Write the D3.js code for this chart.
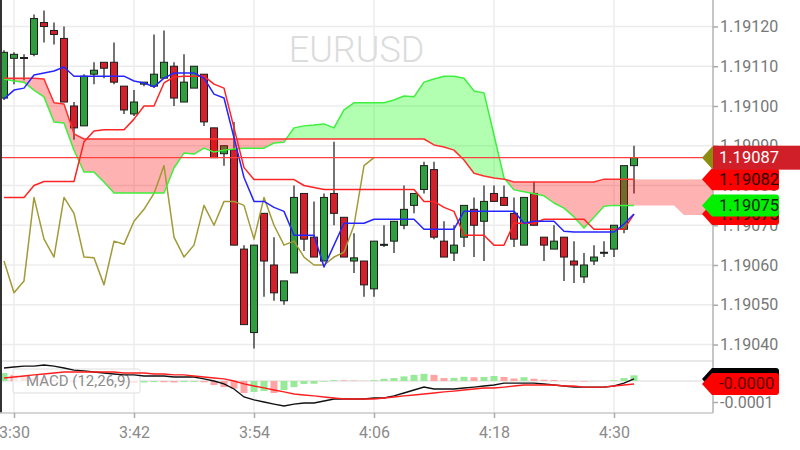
<!DOCTYPE html>
<html><head><meta charset="utf-8">
<script src="https://cdn.jsdelivr.net/npm/d3@7"></script>
<style>
html,body{margin:0;padding:0;background:#fff;}
svg{display:block;font-family:Roboto,"Noto Sans",sans-serif;}
</style></head><body>
<svg id="chart" width="800" height="450"></svg>
<script>
// ---------- data ----------
const symbol = "EURUSD";
const firstBar = "3:29";
const open = [1.19102,1.19112,1.19112,1.19113,1.19121,1.19119,1.19117,1.191,1.19095,1.19108,
1.19111,1.19111,1.19105,1.19098,1.191055,1.19105,1.19107,1.1911,1.19101,1.191045,
1.19108,1.190945,1.19088,1.19089,1.19064,1.19043,1.19073,1.1906,1.19051,1.19058,
1.19078,1.19067,1.19061,1.19078,1.19072,1.19061,1.19061,1.19054,1.19065,1.19066,
1.1907,1.19075,1.19079,1.19084,1.19066,1.19063,1.19067,1.19074,1.19071,1.19078,
1.19077,1.19073,1.19065,1.19078,1.19067,1.19064,1.19067,1.19061,1.19057,1.19061,
1.19063,1.19064,1.19069,1.19085];
const high = [1.19114,1.191135,1.19113,1.19123,1.19124,1.19121,1.1912,1.19101,1.19108,1.19111,
1.19111,1.19116,1.19105,1.19104,1.19106,1.19118,1.19119,1.19111,1.19113,1.1911,
1.19108,1.190945,1.1909,1.19096,1.19065,1.19065,1.19073,1.19067,1.19056,1.1908,
1.19078,1.19076,1.19078,1.19091,1.19072,1.19068,1.19061,1.19066,1.1907,1.19071,
1.1908,1.19078,1.19086,1.19086,1.19071,1.1907,1.19075,1.19077,1.1908,1.1908,
1.1908,1.19077,1.19077,1.19081,1.19067,1.1907,1.19067,1.19066,1.19063,1.19065,
1.19066,1.1907,1.19085,1.1909];
const low = [1.191015,1.191055,1.191065,1.191125,1.19116,1.191155,1.19101,1.190915,1.19095,1.191055,
1.19107,1.191055,1.19098,1.190975,1.19105,1.191045,1.19107,1.191,1.19101,1.191045,
1.19095,1.19087,1.19085,1.19065,1.19045,1.19039,1.19052,1.19051,1.1905,1.19058,
1.190635,1.19062,1.19061,1.1907,1.19062,1.19058,1.19052,1.19052,1.190645,1.19063,
1.19069,1.19073,1.19078,1.190665,1.19062,1.19061,1.190645,1.19062,1.19061,1.19076,
1.19075,1.190645,1.19065,1.1907,1.19061,1.19064,1.19056,1.190555,1.190555,1.1906,
1.19062,1.19062,1.19068,1.19078];
const close = [1.191135,1.19113,1.191122,1.19122,1.1912,1.19118,1.19101,1.190945,1.191075,1.19109,
1.191095,1.19106,1.19099,1.19101,1.19106,1.19108,1.19111,1.19102,1.19106,1.1911,
1.19096,1.19087,1.1909,1.19065,1.19045,1.19065,1.19061,1.19053,1.19056,1.19077,
1.190665,1.19062,1.19077,1.19073,1.19062,1.190618,1.19055,1.19066,1.190652,1.19071,
1.19074,1.19078,1.19085,1.19067,1.19062,1.19065,1.19075,1.1907,1.19076,1.19076,
1.19075,1.190665,1.19077,1.1907,1.19065,1.19066,1.19062,1.1906,1.1906,1.19062,
1.190632,1.1907,1.19085,1.19087];
const tenkan = [1.191018,1.19104,1.191045,1.191078,1.191083,1.191088,1.191098,1.191075,1.191075,1.191075,
1.191075,1.191075,1.191075,1.191063,1.191058,1.191048,1.19107,1.191083,1.191083,1.191083,
1.19107,1.19103,1.19102,1.19092,1.19082,1.19076,1.19076,1.190745,1.190735,1.190675,
1.190675,1.190675,1.190595,1.19065,1.190705,1.190705,1.190705,1.190715,1.190715,1.190715,
1.190715,1.190715,1.19069,1.19069,1.19069,1.19069,1.190735,1.190735,1.190735,1.190735,
1.190735,1.190735,1.190705,1.19071,1.19071,1.19071,1.190685,1.190683,1.190683,1.190683,
1.190683,1.190683,1.190703,1.190728];
const kijun = [1.19077,1.19077,1.19077,1.1908,1.19081,1.19081,1.19081,1.19081,1.19091,1.190937,
1.19094,1.19094,1.19094,1.190967,1.191,1.191,1.191058,1.191073,1.191075,1.191075,
1.191075,1.191055,1.191045,1.190945,1.190845,1.190815,1.190815,1.190815,1.190815,1.190815,
1.1908,1.190795,1.19079,1.19079,1.19079,1.19079,1.19079,1.19079,1.19079,1.19079,
1.19079,1.19079,1.19076,1.19076,1.190745,1.190735,1.190675,1.190675,1.190675,1.19065,
1.19065,1.190705,1.190705,1.190705,1.190715,1.190715,1.190715,1.190715,1.190715,1.19069,
1.19069,1.19069,1.19069,1.190728];
const senkouA = [1.191068,1.191063,1.19106,1.19104,1.191023,1.19096,1.190957,1.190889,1.190834,1.190834,
1.190809,1.190781,1.190781,1.190781,1.190781,1.190781,1.190781,1.190844,1.190882,1.190879,
1.190894,1.190884,1.190889,1.190892,1.190894,1.190894,1.190894,1.190907,1.190909,1.190945,
1.19095,1.190952,1.190955,1.190945,1.19099,1.191008,1.191008,1.191008,1.191008,1.191015,
1.191025,1.191023,1.19106,1.191068,1.191075,1.191075,1.19107,1.191038,1.191033,1.190927,
1.190819,1.190789,1.190784,1.190779,1.190774,1.190756,1.190743,1.190721,1.190693,1.19072,
1.190748,1.19075,1.19075,1.19075,1.19075,1.19075,1.19075,1.19075,1.190726,1.190726,
1.190726,1.190726];
const senkouB = [1.19107,1.19107,1.19107,1.19107,1.191068,1.191008,1.191005,1.19093,1.190917,1.190917,
1.190917,1.190917,1.190917,1.190917,1.190917,1.190917,1.190917,1.190917,1.190917,1.190917,
1.190917,1.190917,1.190917,1.190917,1.190917,1.190917,1.190917,1.190917,1.190917,1.190917,
1.190917,1.190917,1.190917,1.190917,1.190917,1.190917,1.190917,1.190917,1.190917,1.190917,
1.190917,1.190917,1.190917,1.190902,1.190897,1.190889,1.190864,1.190831,1.190824,1.190819,
1.190816,1.190809,1.190809,1.190809,1.190809,1.190809,1.190809,1.190809,1.190809,1.190809,
1.190816,1.190816,1.190816,1.190816,1.190816,1.190816,1.190816,1.190816,1.190816,1.190816,
1.190816,1.190816];
const chikou = [1.19061,1.19053,1.19056,1.19077,1.190665,1.19062,1.19077,1.19073,1.19062,1.190618,
1.19055,1.19066,1.190652,1.19071,1.19074,1.19078,1.19085,1.19067,1.19062,1.19065,
1.19075,1.1907,1.19076,1.19076,1.19075,1.190665,1.19077,1.1907,1.19065,1.19066,
1.19062,1.1906,1.1906,1.19062,1.190632,1.1907,1.19085,1.19087];
const macd = [0.000062,0.000067,0.000071,0.000071,0.000076,0.000071,0.000062,0.000052,0.000048,0.000043,
0.000038,0.000033,0.000029,0.000029,0.000024,0.000024,0.000024,0.000019,0.000019,0.000019,
0.00001,0,-0.000014,-0.000038,-0.000076,-0.00009,-0.0001,-0.00011,-0.000119,-0.00011,
-0.000105,-0.000105,-0.000095,-0.000086,-0.000086,-0.000086,-0.000086,-0.000081,-0.000081,-0.000071,
-0.000057,-0.000043,-0.000029,-0.000038,-0.000038,-0.000038,-0.000033,-0.000029,-0.000024,-0.000019,
-0.00001,-0.00001,-0.00001,-0.00001,-0.000014,-0.000019,-0.000024,-0.000029,-0.000029,-0.000029,
-0.000029,-0.000024,-0.00001,0.00001];
const signal = [0.000014,0.000019,0.000024,0.000029,0.000033,0.000038,0.000043,0.000043,0.000043,0.000043,
0.000043,0.000043,0.000038,0.000038,0.000038,0.000033,0.000033,0.000029,0.000029,0.000024,
0.000019,0.000014,0.00001,0,-0.000014,-0.000024,-0.000033,-0.000043,-0.000052,-0.000062,
-0.000067,-0.000071,-0.000076,-0.000081,-0.000086,-0.000086,-0.000086,-0.000086,-0.000081,-0.000076,
-0.000071,-0.000067,-0.000062,-0.000057,-0.000052,-0.000048,-0.000043,-0.000038,-0.000033,-0.000033,
-0.000029,-0.000024,-0.000019,-0.000019,-0.000019,-0.000019,-0.000024,-0.000024,-0.000029,-0.000029,
-0.000029,-0.000024,-0.000019,-0.000014];
const hist = [0.000038,0.000029,0.000024,0.000014,0.00001,0.000005,0.000002,-0.000005,-0.000004,-0.000003,
-0.000002,-0.000004,-0.000006,-0.00001,-0.000007,-0.000005,-0.000006,-0.000007,-0.000005,-0.000004,
-0.000006,-0.000019,-0.000029,-0.000036,-0.000057,-0.000052,-0.000048,-0.000057,-0.000043,-0.000029,
-0.000014,-0.000013,-0.000003,0.000004,0.000003,0.000002,0.000001,0.000004,0.00001,0.000014,
0.000022,0.000029,0.000034,0.000029,0.000014,0.000015,0.00002,0.000018,0.000019,0.000024,
0.000019,0.000012,0.000018,0.000011,0.000006,0.000005,0.000001,-0.000002,-0.000003,-0.000001,
0,0.000004,0.000014,0.000027];
const priceTicks = [1.1904,1.1905,1.1906,1.1907,1.1908,1.1909,1.1910,1.1911,1.1912];
const macdTicks = [-0.0001];
const timeTicks = ["3:30","3:42","3:54","4:06","4:18","4:30"];
const macdName = "MACD (12,26,9)";

// ---------- layout ----------
const plotR = 713, mainB = 359, macdT = 361, macdB = 413;
const svg = d3.select("#chart");
const parse = d3.timeParse("%H:%M");
const t0 = parse(firstBar);
const barTime = i => d3.timeMinute.offset(t0, i);
const times = open.map((d, i) => barTime(i));
const x = d3.scaleTime()
  .domain([d3.timeSecond.offset(t0, -24), d3.timeSecond.offset(t0, 70*60 + 54)])
  .range([0, plotR]);
const y = d3.scaleLinear().domain([1.1904, 1.1912]).range([344.5, 26.5]);
const ym = d3.scaleLinear().domain([-0.0001, 0]).range([402, 381]);
const n = open.length;

const defs = svg.append("defs");
defs.append("clipPath").attr("id","mainClip").append("rect").attr("x",0).attr("y",0).attr("width",plotR).attr("height",mainB);
defs.append("clipPath").attr("id","macdClip").append("rect").attr("x",0).attr("y",macdT).attr("width",plotR).attr("height",macdB-macdT);
const bx = (d,i) => x(barTime(i));
defs.append("clipPath").attr("id","aboveB").append("path")
  .attr("d", d3.area().x(bx).y0(-50).y1(d => y(d))(senkouB));
defs.append("clipPath").attr("id","belowB").append("path")
  .attr("d", d3.area().x(bx).y0(d => y(d)).y1(600)(senkouB));

// ---------- grid ----------
const grid = svg.append("g");
grid.selectAll(".hg").data(priceTicks).join("line")
  .attr("x1",0).attr("x2",plotR).attr("y1",d=>y(d)).attr("y2",d=>y(d))
  .attr("stroke","#ececec").attr("stroke-width",1.5);
grid.selectAll(".vg").data(timeTicks).join("line")
  .attr("x1",d=>x(parse(d))).attr("x2",d=>x(parse(d))).attr("y1",0).attr("y2",macdB)
  .attr("stroke","#ececec").attr("stroke-width",1.5);
grid.append("line").attr("x1",0).attr("x2",plotR).attr("y1",macdT).attr("y2",macdT)
  .attr("stroke","#e2e2e2").attr("stroke-width",1.5);
grid.append("line").attr("x1",0).attr("x2",plotR).attr("y1",ym(0)).attr("y2",ym(0))
  .attr("stroke","#e4e4e4").attr("stroke-width",1.5);

// watermark
svg.append("text").attr("x",plotR/2).attr("y",50).attr("text-anchor","middle")
  .attr("dominant-baseline","central").attr("font-size",36).attr("font-weight",300)
  .attr("fill","#dcdcdc").text(symbol);

// ---------- main panel ----------
const main = svg.append("g").attr("clip-path","url(#mainClip)");
const bars = d3.range(n).map(i => ({t:times[i], o:open[i], h:high[i], l:low[i], c:close[i]}));
main.selectAll(".wick").data(bars).join("line")
  .attr("x1",d=>x(d.t)).attr("x2",d=>x(d.t)).attr("y1",d=>y(d.h)).attr("y2",d=>y(d.l))
  .attr("stroke","#2b2b2b").attr("stroke-width",1.3);
main.selectAll(".body").data(bars).join("rect")
  .attr("x",d=>x(d.t)-3.5).attr("width",7)
  .attr("y",d=>y(Math.max(d.o,d.c)))
  .attr("height",d=>Math.max(1, Math.abs(y(d.o)-y(d.c))))
  .attr("fill",d=>d.c>=d.o ? "#2f9e3f" : "#d3202a")
  .attr("stroke","#1e1e1e").attr("stroke-width",1);

// cloud
const cloudArea = d3.area().x(bx).y0((d,i)=>y(senkouB[i])).y1(d=>y(d));
main.append("g").attr("clip-path","url(#aboveB)").append("path")
  .attr("d",cloudArea(senkouA)).attr("fill","rgba(0,255,0,0.3)");
main.append("g").attr("clip-path","url(#belowB)").append("path")
  .attr("d",cloudArea(senkouA)).attr("fill","rgba(255,0,0,0.3)");

const ln = d3.line().x(bx).y(d=>y(d));
const drawLine = (arr, color) => main.append("path").attr("d",ln(arr)).attr("fill","none")
  .attr("stroke",color).attr("stroke-width",1.5).attr("stroke-linejoin","round");
drawLine(chikou, "#a19a37");
drawLine(senkouA.slice(0,n), "#3df03d");
drawLine(senkouB.slice(0,n), "#ff3030");
drawLine(kijun, "#ff2424");
drawLine(tenkan, "#2525ff");
const lastPrice = close[n-1];
main.append("line").attr("x1",0).attr("x2",plotR).attr("y1",y(lastPrice)).attr("y2",y(lastPrice))
  .attr("stroke","#ff4040").attr("stroke-width",1.2);

// ---------- MACD panel ----------
const mp = svg.append("g").attr("clip-path","url(#macdClip)");
mp.selectAll(".hb").data(hist).join("rect")
  .attr("x",(d,i)=>bx(d,i)-3.5).attr("width",7)
  .attr("y",d=>Math.min(ym(d),ym(0))).attr("height",d=>Math.abs(ym(d)-ym(0)))
  .attr("fill",(d,i)=> (i===0 || d>hist[i-1]) ? "#97ea97" : "#ffa3a3");
mp.append("rect").attr("x",13).attr("y",369).attr("width",127).attr("height",24).attr("rx",2)
  .attr("fill","rgba(255,255,255,0.72)").attr("stroke","#dedede");
mp.append("text").attr("x",26).attr("y",381).attr("dominant-baseline","central")
  .attr("font-size",15).attr("fill","#8d8d8d").text(macdName);
const lm = d3.line().x(bx).y(d=>ym(d));
mp.append("path").attr("d",lm(macd)).attr("fill","none").attr("stroke","#111").attr("stroke-width",1.4);
mp.append("path").attr("d",lm(signal)).attr("fill","none").attr("stroke","#ff1e1e").attr("stroke-width",1.4);

// ---------- axes ----------
svg.append("line").attr("x1",1).attr("x2",1).attr("y1",0).attr("y2",macdB).attr("stroke","#333").attr("stroke-width",2);
svg.append("line").attr("x1",plotR).attr("x2",plotR).attr("y1",0).attr("y2",macdB).attr("stroke","#b3b3b3").attr("stroke-width",1.5);
svg.append("line").attr("x1",0).attr("x2",plotR).attr("y1",macdB).attr("y2",macdB).attr("stroke","#c8c8c8").attr("stroke-width",1.5);

const ax = svg.append("g").attr("transform",`translate(0,${macdB})`)
  .call(d3.axisBottom(x).tickValues(timeTicks.map(parse)).tickFormat(d3.timeFormat("%-H:%M")).tickSize(5).tickPadding(9));
ax.select(".domain").remove();
ax.selectAll("line").attr("stroke","#aaa").attr("stroke-width",1.5);
ax.selectAll("text").attr("font-size",16).attr("fill","#8a8a8a").attr("font-family","Roboto,sans-serif");

const ay = svg.append("g").attr("transform",`translate(${plotR},0)`)
  .call(d3.axisRight(y).tickValues(priceTicks).tickFormat(d=>d.toFixed(5)).tickSize(5).tickPadding(2));
ay.select(".domain").remove();
ay.selectAll("line").attr("stroke","#aaa").attr("stroke-width",1.5);
ay.selectAll("text").attr("font-size",16).attr("fill","#777").attr("font-family","Roboto,sans-serif");

const aym = svg.append("g").attr("transform",`translate(${plotR},0)`)
  .call(d3.axisRight(ym).tickValues(macdTicks).tickFormat(d=>d.toFixed(4)).tickSize(5).tickPadding(2));
aym.select(".domain").remove();
aym.selectAll("line").attr("stroke","#aaa").attr("stroke-width",1.5);
aym.selectAll("text").attr("font-size",16).attr("fill","#777").attr("font-family","Roboto,sans-serif");
svg.append("line").attr("x1",plotR).attr("x2",plotR+5).attr("y1",ym(0)).attr("y2",ym(0)).attr("stroke","#aaa").attr("stroke-width",1.5);

// ---------- value tags ----------
const tagPath = yc => `M702,${yc} L712,${yc-11} L776,${yc-11} Q779,${yc-11} 779,${yc-8} L779,${yc+8} Q779,${yc+11} 776,${yc+11} L712,${yc+11} Z`;
function tag(yc, fill, txt, txtColor){
  const g = svg.append("g");
  g.append("path").attr("d",tagPath(yc)).attr("fill",fill);
  if (txt) g.append("text").attr("x",719).attr("y",yc).attr("dominant-baseline","central")
    .attr("font-size",16.5).attr("fill",txtColor).text(txt);
}
tag(y(kijun[n-1]), "#ff0000", kijun[n-1].toFixed(5), "#2a0000");
tag(y(senkouA[n-1]), "#00f000", senkouA[n-1].toFixed(5), "#0d260d");
tag(y(senkouB[n-1]), "#ff0000", senkouB[n-1].toFixed(5), "#2a0000");
tag(y(chikou[chikou.length-1]), "#8c8c10", "", "#fff");
const yp = y(lastPrice);
svg.append("rect").attr("x",plotR).attr("y",yp-12).attr("width",800-plotR).attr("height",24).attr("fill","#d11f29");
svg.append("text").attr("x",719).attr("y",yp).attr("dominant-baseline","central")
  .attr("font-size",16.5).attr("fill","#fff").text(lastPrice.toFixed(5));

tag(ym(macd[n-1]), "#000", "", "#fff");
tag(ym(signal[n-1]), "#ff0000", signal[n-1].toFixed(4), "#5a0000");
</script>
</body></html>
